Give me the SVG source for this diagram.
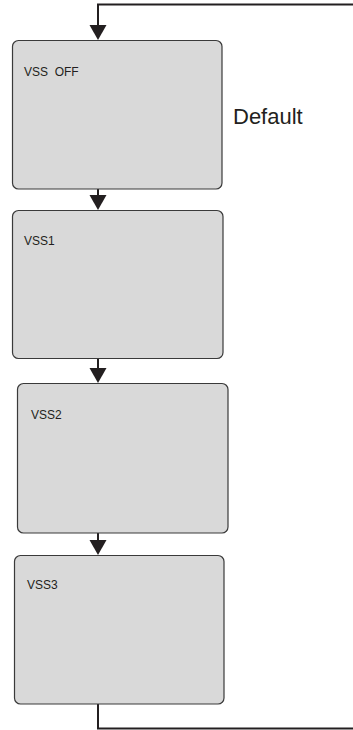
<svg xmlns="http://www.w3.org/2000/svg" width="353" height="730" viewBox="0 0 353 730">
<style>
.box{fill:#d9d9d9;stroke:#3a3a3a;stroke-width:1.2}
.lbl{font-family:"Liberation Sans",Arial,sans-serif;font-size:12px;fill:#231f20}
.ln{fill:none;stroke:#231f20;stroke-width:2}
.ah{fill:#231f20}
</style>
<rect width="353" height="730" fill="#ffffff"/>
<g id="connectors">
<path class="ln" d="M353,4.5 H98 V26"/>
<polygon class="ah" points="89.5,25 106.5,25 98,40"/>
<path class="ln" d="M98,189 V196"/>
<polygon class="ah" points="89.5,195 106.5,195 98,210"/>
<path class="ln" d="M98,358 V369"/>
<polygon class="ah" points="89.5,368 106.5,368 98,383"/>
<path class="ln" d="M98,533 V541"/>
<polygon class="ah" points="89.5,540 106.5,540 98,555"/>
<path class="ln" d="M98,704 V728.5 H353"/>
</g>
<g id="vssoff">
<rect class="box" x="12.5" y="40.5" width="209.5" height="148.5" rx="6"/>
<text class="lbl" x="24" y="76" xml:space="preserve">VSS  OFF</text>
</g>
<g id="default">
<text x="233" y="124" font-family="Liberation Sans,Arial,sans-serif" font-size="22px" fill="#231f20">Default</text>
</g>
<g id="vss1">
<rect class="box" x="12.5" y="210.5" width="210.5" height="148" rx="6"/>
<text class="lbl" x="24" y="245">VSS1</text>
</g>
<g id="vss2">
<rect class="box" x="17.5" y="383.5" width="210.5" height="149.5" rx="6"/>
<text class="lbl" x="31" y="418.5">VSS2</text>
</g>
<g id="vss3">
<rect class="box" x="14.5" y="555.5" width="209.5" height="148.5" rx="6"/>
<text class="lbl" x="27" y="588.5">VSS3</text>
</g>
</svg>
